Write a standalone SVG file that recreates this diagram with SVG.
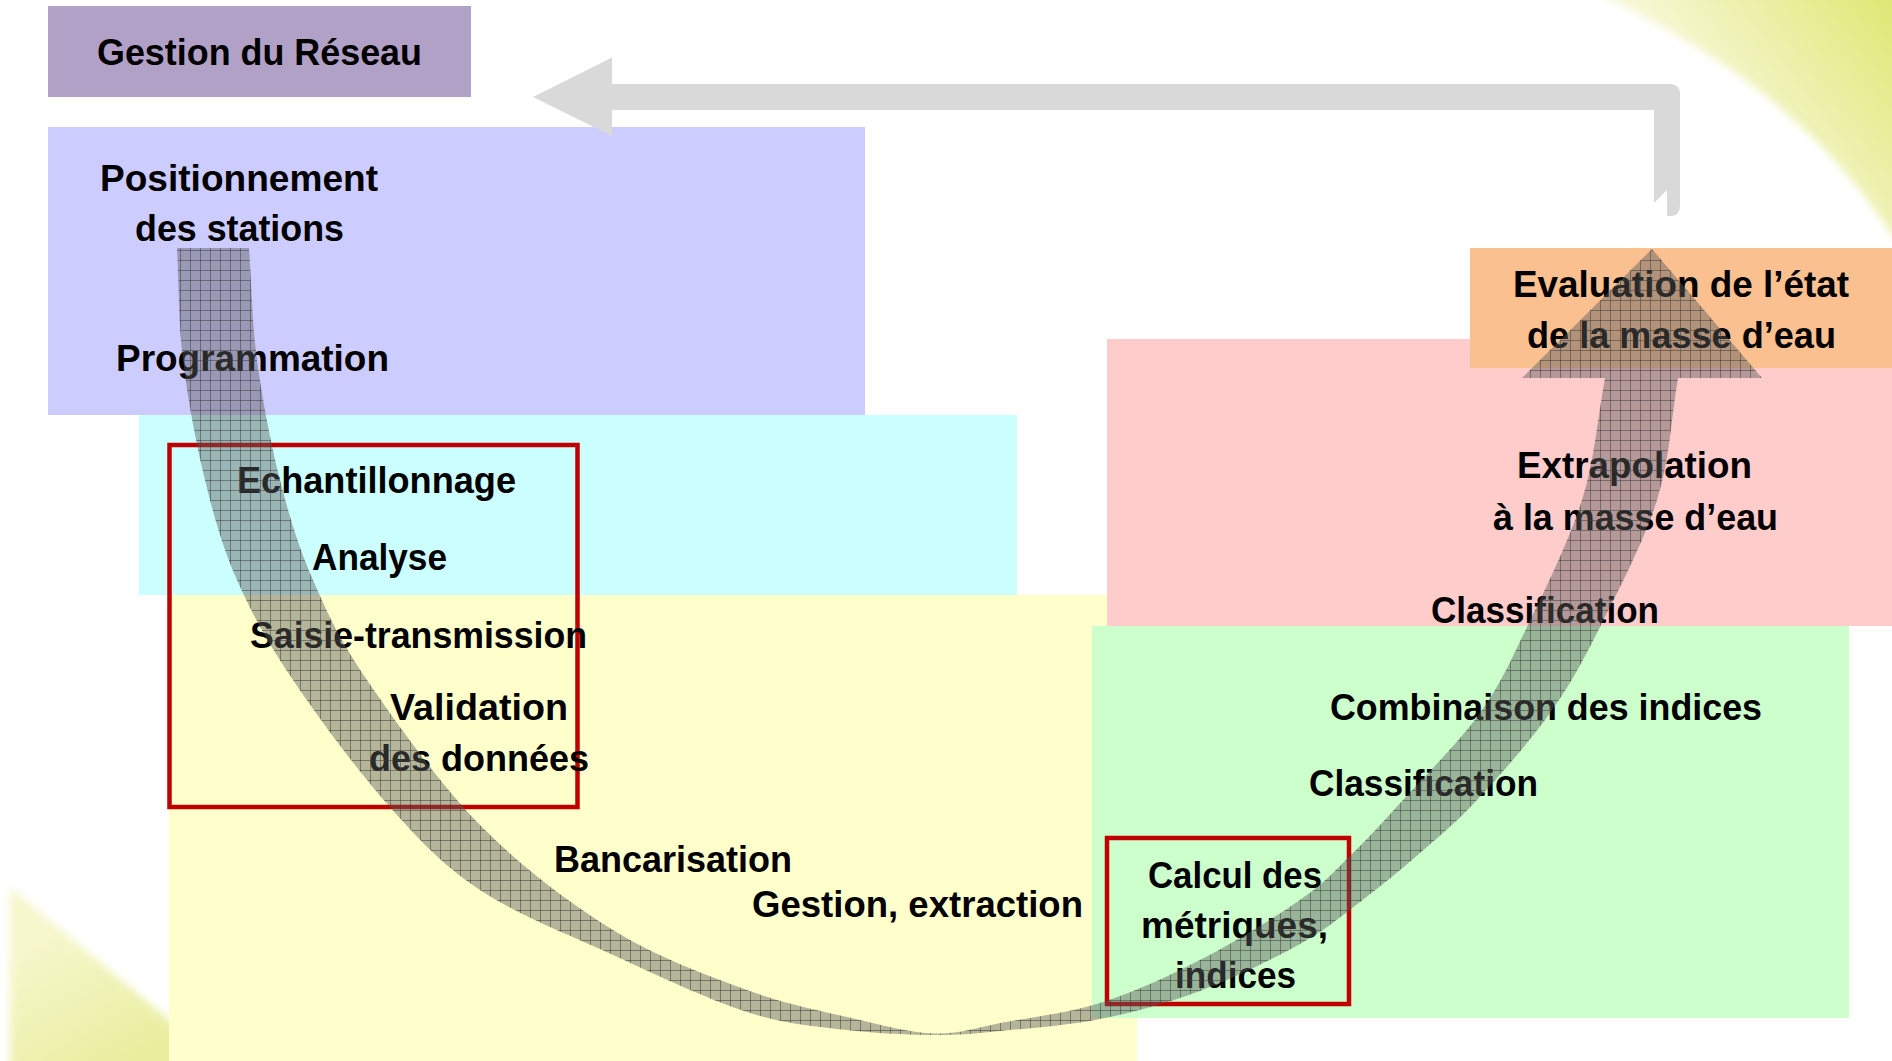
<svg xmlns="http://www.w3.org/2000/svg" width="1892" height="1061" viewBox="0 0 1892 1061">
<defs>
<style>
.t{font-family:"Liberation Sans",Arial,sans-serif;font-weight:bold;font-size:36px;fill:#000}
.red{fill:none;stroke:#C00000;stroke-width:4.5}
</style>
<pattern id="grid" width="10" height="10" patternUnits="userSpaceOnUse">
<rect width="10" height="10" fill="#5a5a5a" fill-opacity="0.45"/>
<path d="M0 0.5H10M0.5 0V10" stroke="#3a3a3a" stroke-opacity="0.5" stroke-width="1" fill="none"/>
</pattern>
<linearGradient id="swTR" gradientUnits="userSpaceOnUse" x1="1720" y1="130" x2="1892" y2="0">
<stop offset="0" stop-color="#f8f8d8"/>
<stop offset="1" stop-color="#dfe774"/>
</linearGradient>
<linearGradient id="swBL" gradientUnits="userSpaceOnUse" x1="60" y1="930" x2="130" y2="1061">
<stop offset="0" stop-color="#f6f7cc"/>
<stop offset="1" stop-color="#e9ee9e"/>
</linearGradient>
<filter id="soft" x="-10%" y="-10%" width="120%" height="120%">
<feGaussianBlur stdDeviation="4"/>
</filter>
</defs>
<rect width="1892" height="1061" fill="#ffffff"/>
<g id="decor">
<path d="M1610,0 Q1800,90 1892,235 L1900,240 L1900,-10 L1600,-10 Z" fill="url(#swTR)" filter="url(#soft)"/>
<path d="M10,887 L175,1025 L175,1070 L10,1070 Z" fill="url(#swBL)" filter="url(#soft)"/>
</g>
<g id="zones">
<rect id="zone-positionnement" x="48" y="127" width="817" height="288" fill="#CCCCFF"/>
<rect id="zone-echantillonnage" x="139" y="415" width="878" height="180" fill="#CCFFFF"/>
<rect id="zone-bancarisation" x="169" y="595" width="968" height="466" fill="#FFFFCC"/>
<rect id="zone-extrapolation" x="1107" y="339" width="785" height="287" fill="#FFCCCC"/>
<rect id="zone-indices" x="1092" y="626" width="757" height="392" fill="#CCFFCC"/>
</g>
<g id="node-gestion">
<rect x="48" y="6" width="423" height="91" fill="#B2A1C7"/>
<text class="t" x="97" y="65" textLength="325" lengthAdjust="spacingAndGlyphs">Gestion du Réseau</text>
</g>
<g id="node-evaluation">
<rect x="1470" y="248" width="422" height="120" fill="#FAC090"/>
<text class="t" x="1513" y="297" textLength="336" lengthAdjust="spacingAndGlyphs">Evaluation de l’état</text>
<text class="t" x="1527" y="348" textLength="309" lengthAdjust="spacingAndGlyphs">de la masse d’eau</text>
</g>
<g id="node-terrain">
<rect class="red" x="169.5" y="445" width="408" height="362"/>
</g>
<g id="node-calcul">
<rect class="red" x="1107" y="838" width="242" height="166"/>
<text class="t" x="1148" y="888" textLength="174" lengthAdjust="spacingAndGlyphs">Calcul des</text>
<text class="t" x="1141" y="938" textLength="187" lengthAdjust="spacingAndGlyphs">métriques,</text>
<text class="t" x="1175" y="988" textLength="121" lengthAdjust="spacingAndGlyphs">indices</text>
</g>
<g id="node-positionnement">
<text class="t" x="100" y="191" textLength="278" lengthAdjust="spacingAndGlyphs">Positionnement</text>
<text class="t" x="135" y="241" textLength="209" lengthAdjust="spacingAndGlyphs">des stations</text>
</g>
<g id="node-programmation">
<text class="t" x="116" y="371" textLength="273" lengthAdjust="spacingAndGlyphs">Programmation</text>
</g>
<g id="node-echantillonnage">
<text class="t" x="237" y="493" textLength="279" lengthAdjust="spacingAndGlyphs">Echantillonnage</text>
</g>
<g id="node-analyse">
<text class="t" x="312" y="570" textLength="135" lengthAdjust="spacingAndGlyphs">Analyse</text>
</g>
<g id="node-saisie">
<text class="t" x="250" y="648" textLength="337" lengthAdjust="spacingAndGlyphs">Saisie-transmission</text>
</g>
<g id="node-validation">
<text class="t" x="390" y="720" textLength="178" lengthAdjust="spacingAndGlyphs">Validation</text>
<text class="t" x="369" y="771" textLength="220" lengthAdjust="spacingAndGlyphs">des données</text>
</g>
<g id="node-bancarisation">
<text class="t" x="554" y="872" textLength="238" lengthAdjust="spacingAndGlyphs">Bancarisation</text>
</g>
<g id="node-gestion-extraction">
<text class="t" x="752" y="917" textLength="331" lengthAdjust="spacingAndGlyphs">Gestion, extraction</text>
</g>
<g id="node-classification-1">
<text class="t" x="1309" y="796" textLength="229" lengthAdjust="spacingAndGlyphs">Classification</text>
</g>
<g id="node-combinaison">
<text class="t" x="1330" y="720" textLength="432" lengthAdjust="spacingAndGlyphs">Combinaison des indices</text>
</g>
<g id="node-classification-2">
<text class="t" x="1431" y="623" textLength="228" lengthAdjust="spacingAndGlyphs">Classification</text>
</g>
<g id="node-extrapolation">
<text class="t" x="1517" y="478" textLength="235" lengthAdjust="spacingAndGlyphs">Extrapolation</text>
<text class="t" x="1493" y="530" textLength="285" lengthAdjust="spacingAndGlyphs">à la masse d’eau</text>
</g>
<g id="connectors">
<path id="retour" d="M533,97 L612,57.5 L612,84 L1670,84 Q1680,84 1680,94 L1680,206 Q1680,216 1670,216 L1667,216 L1667,190 L1654,203 L1654,110 L612,110 L612,136 Z" fill="#D9D9D9"/>
<path id="cycle" fill="url(#grid)" d="M177,248 C179,285.3 178.33,321.33 183,360 C187.67,398.67 196,443.33 205,480 C214,516.67 222.33,546.67 237,580 C251.67,613.33 267.67,642.33 293,680 C318.33,717.67 357.83,771 389,806 C420.17,841 442.67,865.17 480,890 C517.33,914.83 568.5,934.67 613,955 C657.5,975.33 708,999.5 747,1012 C786,1024.5 815.67,1026.17 847,1030 C878.33,1033.83 909.5,1034.83 935,1035 C960.5,1035.17 972.5,1033.67 1000,1031 C1027.5,1028.33 1066.67,1025.67 1100,1019 C1133.33,1012.33 1166.67,1003.5 1200,991 C1233.33,978.5 1273.33,958.83 1300,944 C1326.67,929.17 1340,917.17 1360,902 C1380,886.83 1400.5,870 1420,853 C1439.5,836 1455.33,823.33 1477,800 C1498.67,776.67 1529.5,741.83 1550,713 C1570.5,684.17 1582.17,662.5 1600,627 C1617.83,591.5 1644,541.5 1657,500 C1670,458.5 1671,418.67 1678,378 L1762,378 L1652,249 L1522,378 L1605,378 C1597.33,418.67 1595,458.5 1582,500 C1569,541.5 1544,591.5 1527,627 C1510,662.5 1500.67,684.17 1480,713 C1459.33,741.83 1424.67,776.17 1403,800 C1381.33,823.83 1367.17,839.33 1350,856 C1332.83,872.67 1325,882.67 1300,900 C1275,917.33 1233.33,942.83 1200,960 C1166.67,977.17 1133.33,992.5 1100,1003 C1066.67,1013.5 1027.5,1017.83 1000,1023 C974.5,1028.17 960.5,1034 935,1033.5 C909.5,1033 878.33,1024.33 847,1017 C815.67,1009.67 786,1004.5 747,990 C708,975.5 657.5,957.5 613,930 C568.5,902.5 521,866.67 480,825 C439,783.33 394.83,720.83 367,680 C339.17,639.17 327.5,613.33 313,580 C298.5,546.67 289.33,516.67 280,480 C270.67,443.33 262.17,398.67 257,360 C251.83,321.33 251.67,285.33 249,248 Z"/>
</g>
</svg>
